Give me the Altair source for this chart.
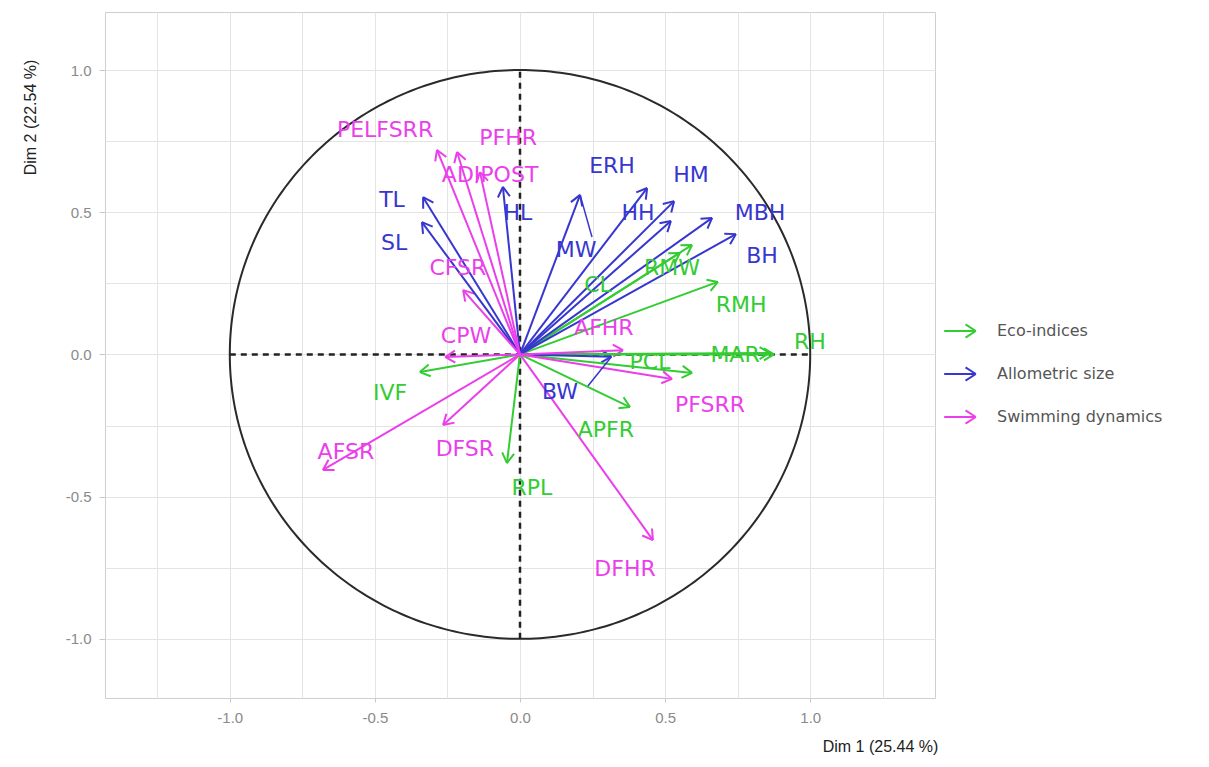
import math
import numpy as np
import pandas as pd
import altair as alt

# ---------------- data ----------------
groups = ["Eco-indices", "Allometric size", "Swimming dynamics"]
group_colors = ["#33cc33", "#3737cf", "#ea3fea"]

eco_names = ["RMW", "CL", "RMH", "MAR", "RH", "PCL", "APFR", "IVF", "RPL"]
eco_x = [0.593, 0.551, 0.682, 0.860, 0.875, 0.593, 0.379, -0.345, -0.045]
eco_y = [0.385, 0.357, 0.255, 0.005, 0.000, -0.065, -0.185, -0.062, -0.382]
eco_lx = [0.524, 0.269, 0.762, 0.741, 0.999, 0.448, 0.296, -0.448, 0.041]
eco_ly = [0.304, 0.244, 0.174, -0.002, 0.044, -0.027, -0.266, -0.136, -0.470]

allo_names = ["TL", "SL", "HL", "MW", "ERH", "HM", "HH", "MBH", "BH", "BW"]
allo_x = [-0.334, -0.338, -0.059, 0.207, 0.438, 0.531, 0.520, 0.662, 0.744, 0.315]
allo_y = [0.553, 0.465, 0.589, 0.561, 0.585, 0.539, 0.469, 0.480, 0.423, -0.008]
allo_lx = [-0.441, -0.434, -0.007, 0.193, 0.317, 0.589, 0.407, 0.827, 0.834, 0.138]
allo_ly = [0.543, 0.392, 0.497, 0.367, 0.662, 0.631, 0.497, 0.497, 0.346, -0.132]

swim_names = ["PELFSRR", "PFHR", "ADIPOST", "CFSR", "CPW", "AFSR", "DFSR", "AFHR", "PFSRR", "DFHR"]
swim_x = [-0.286, -0.217, -0.138, -0.196, -0.258, -0.679, -0.265, 0.355, 0.524, 0.458]
swim_y = [0.719, 0.712, 0.641, 0.226, -0.009, -0.406, -0.248, 0.015, -0.086, -0.653]
swim_lx = [-0.465, -0.041, -0.103, -0.214, -0.186, -0.600, -0.190, 0.289, 0.655, 0.362]
swim_ly = [0.789, 0.761, 0.631, 0.304, 0.065, -0.343, -0.333, 0.093, -0.178, -0.755]

# label connector segments (repelled labels)
seg_names = ["MW", "BW"]
seg_x = [0.207, 0.315]
seg_y = [0.561, -0.008]
seg_x2 = [0.248, 0.234]
seg_y2 = [0.413, -0.111]

x_domain = [-1.43, 1.43]
y_domain = [-1.208, 1.204]
x_grid = [-1.25, -1.0, -0.75, -0.5, -0.25, 0.0, 0.25, 0.5, 0.75, 1.0, 1.25]
y_grid = [-1.0, -0.75, -0.5, -0.25, 0.0, 0.25, 0.5, 0.75, 1.0]

W, H = 830, 686

# ---------------- tables ----------------
rows = []
for g, names, xs, ys, lxs, lys in [
    (groups[0], eco_names, eco_x, eco_y, eco_lx, eco_ly),
    (groups[1], allo_names, allo_x, allo_y, allo_lx, allo_ly),
    (groups[2], swim_names, swim_x, swim_y, swim_lx, swim_ly),
]:
    for n, x, y, lx, ly in zip(names, xs, ys, lxs, lys):
        rows.append({"group": g, "name": n, "x0": 0.0, "y0": 0.0, "x": x, "y": y, "lx": lx, "ly": ly})
df = pd.DataFrame(rows)
px_x = W / (x_domain[1] - x_domain[0])
px_y = H / (y_domain[1] - y_domain[0])
df["angle"] = [(-math.degrees(math.atan2(yy * px_y, xx * px_x))) % 360 for xx, yy in zip(df["x"], df["y"])]

segs = pd.DataFrame({"name": seg_names, "x": seg_x, "y": seg_y, "x2": seg_x2, "y2": seg_y2})

t = np.linspace(0, 2 * np.pi, 361)
circle = pd.DataFrame({"cx": np.cos(t), "cy": np.sin(t), "o": np.arange(len(t))})

dash = pd.DataFrame({"x": [-1.0, 0.0], "y": [0.0, -1.0], "x2": [1.0, 0.0], "y2": [0.0, 1.0]})

# ---------------- scales / axes ----------------
tick_op = {"condition": {"test": "datum.value % 0.5 == 0", "value": 1}, "value": 0}
lab_expr = "datum.value % 0.5 == 0 ? replace(format(datum.value, '.1f'), '\u2212', '-') : ''"
axis_font = "Liberation Sans Narrow, Liberation Sans, sans-serif"

xscale = alt.Scale(domain=x_domain, nice=False, zero=False)
yscale = alt.Scale(domain=y_domain, nice=False, zero=False)

xaxis = alt.Axis(
    values=x_grid, labelExpr=lab_expr, grid=True, gridColor="#e4e4e4", gridWidth=1,
    domain=False, tickColor="#c8c8c8", tickOpacity=tick_op, tickSize=4,
    labelColor="#8a8a8a", labelFontSize=15, labelFont=axis_font, labelPadding=8,
    title="Dim 1 (25.44 %)", titleX=775, titleY=48, titleAlign="center", titleBaseline="middle",
    titleFontSize=16, titleFontWeight="normal", titleColor="#222222", titleFont=axis_font,
)
yaxis = alt.Axis(
    values=y_grid, labelExpr=lab_expr, grid=True, gridColor="#e4e4e4", gridWidth=1,
    domain=False, tickColor="#c8c8c8", tickOpacity=tick_op, tickSize=6,
    labelColor="#8a8a8a", labelFontSize=15, labelFont=axis_font, labelPadding=8,
    title="Dim 2 (22.54 %)", titleX=-75, titleY=105, titleAlign="center", titleBaseline="middle",
    titleAngle=270, titleFontSize=16, titleFontWeight="normal", titleColor="#222222", titleFont=axis_font,
)

color_scale = alt.Scale(domain=groups, range=group_colors)

base = alt.Chart(df)

circle_layer = alt.Chart(circle).mark_line(color="#2a2a2a", strokeWidth=2).encode(
    x=alt.X("cx:Q", scale=xscale, axis=xaxis),
    y=alt.Y("cy:Q", scale=yscale, axis=yaxis),
    order="o:Q",
)

dash_layer = alt.Chart(dash).mark_rule(color="#222222", strokeWidth=2.5, strokeDash=[6, 5]).encode(
    x="x:Q", y="y:Q", x2="x2:Q", y2="y2:Q"
)

heads = base.mark_point(
    shape="M-1,-0.6L0,0M-1,0.6L0,0", filled=False, size=400, strokeWidth=2, opacity=1
).encode(
    x="x:Q", y="y:Q",
    angle=alt.Angle("angle:Q", scale=None),
    color=alt.Color(
        "group:N", scale=color_scale,
        legend=alt.Legend(
            title=None, orient="none", legendX=838, legendY=302,
            symbolType="M-1,0L1,0M0.35,-0.42L1,0M0.35,0.42L1,0",
            symbolSize=1000, symbolStrokeWidth=2, symbolFillColor="transparent",
            symbolOpacity=1,
            labelFontSize=16, labelColor="#555555", labelFont="DejaVu Sans",
            labelOffset=20, rowPadding=15, labelLimit=400,
        ),
    ),
)

shafts = base.mark_rule(strokeWidth=2).encode(
    x="x0:Q", y="y0:Q", x2="x:Q", y2="y:Q",
    color=alt.Color("group:N", scale=color_scale, legend=None),
)

seg_layer = alt.Chart(segs).mark_rule(color="#3737cf", strokeWidth=1.5).encode(
    x="x:Q", y="y:Q", x2="x2:Q", y2="y2:Q"
)

labels = base.mark_text(font="DejaVu Sans", fontSize=22, align="center", baseline="middle").encode(
    x="lx:Q", y="ly:Q", text="name:N",
    color=alt.Color("group:N", scale=color_scale, legend=None),
)

chart = alt.layer(circle_layer, dash_layer, heads, shafts, seg_layer, labels).properties(
    width=W, height=H,
    autosize=alt.AutoSizeParams(type="none"),
    padding={"left": 97, "top": 4, "right": 262, "bottom": 61},
    background="white",
).configure_view(stroke="#cfcfcf", strokeWidth=1)

chart.save("out.html", embed_options={"renderer": "svg", "actions": False})
